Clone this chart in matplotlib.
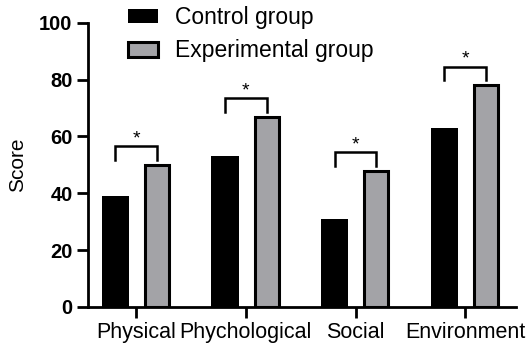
import matplotlib.pyplot as plt
import numpy as np

plt.rcParams['font.family'] = ['Liberation Sans', 'DejaVu Sans']

# data
categories = ['Physical', 'Phychological', 'Social', 'Environment']
control = [39, 53, 31, 63]
experimental = [50, 67, 48, 78]
series_names = ['Control group', 'Experimental group']
significance = ['*', '*', '*', '*']

fig = plt.figure(figsize=(5.29, 3.44), dpi=100)
ax = fig.add_axes([0.166, 0.1076, 0.809, 0.8264])

x = np.arange(len(categories))
off = 0.19
ax.bar(x - off, control, width=0.25, color='black', edgecolor='black',
       linewidth=0, label=series_names[0], zorder=2)
ax.bar(x + off, experimental, width=0.22, color='#a3a3a7', edgecolor='black',
       linewidth=2.2, label=series_names[1], zorder=2)

# significance brackets
for i, s in enumerate(significance):
    top = max(control[i], experimental[i]) + 6.5
    leg = top - 4.8
    ax.plot([x[i] - off, x[i] - off, x[i] + off, x[i] + off],
            [leg, top, top, leg], color='black', lw=1.8,
            solid_joinstyle='miter', clip_on=False)
    ax.text(x[i], top + 2.6, s, ha='center', va='center', fontsize=14)

ax.set_xlim(-0.44, 3.46)
ax.set_ylim(0, 100)
ax.set_yticks([0, 20, 40, 60, 80, 100])
ax.set_xticks(x)
ax.set_xticklabels(categories, fontsize=15.5)
for lab in ax.get_yticklabels():
    lab.set_fontweight('bold')
    lab.set_fontsize(14.5)
ax.set_ylabel('Score', fontsize=15)
ax.yaxis.set_label_coords(-0.142, 0.5)

for side in ['top', 'right']:
    ax.spines[side].set_visible(False)
for side in ['left', 'bottom']:
    ax.spines[side].set_linewidth(2)
ax.tick_params(axis='both', width=2, length=8, pad=3)

ax.legend(loc='upper left', bbox_to_anchor=(128 / 529, 1 - 6 / 344),
          bbox_transform=fig.transFigure, frameon=False, fontsize=16.5,
          handlelength=1.3, handleheight=0.62, handletextpad=0.75,
          labelspacing=0.45, borderpad=0, borderaxespad=0)

fig.savefig('out.png', dpi=100)
